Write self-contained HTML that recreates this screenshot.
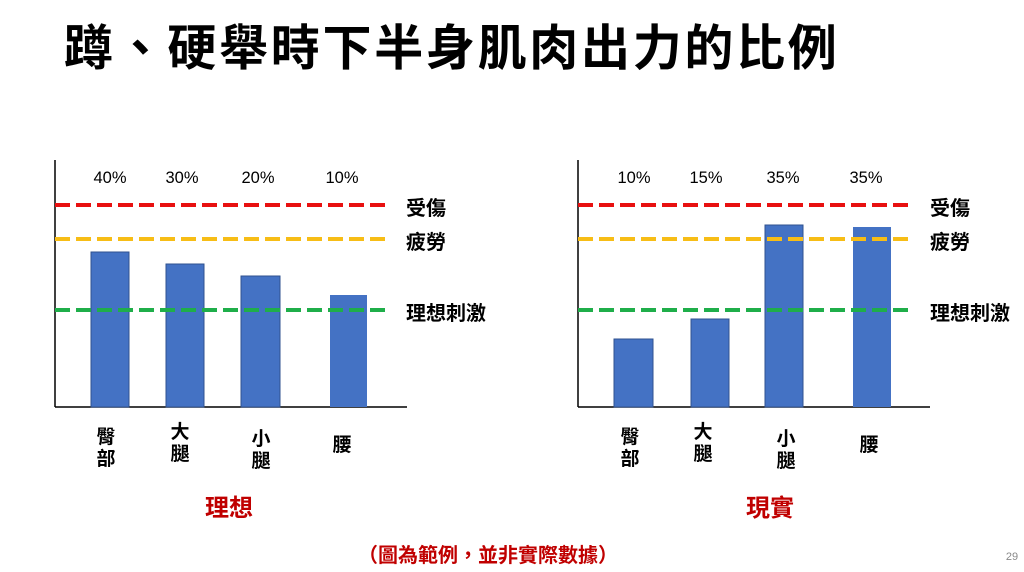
<!DOCTYPE html>
<html><head><meta charset="utf-8"><style>
body{margin:0;width:1024px;height:572px;background:#fff;overflow:hidden;position:relative;font-family:"Liberation Sans","Noto Sans CJK TC",sans-serif}
.t{position:absolute;white-space:nowrap}
</style></head><body>
<div class="t" style="left:64px;top:19px;font-size:49px;font-weight:bold;letter-spacing:2.7px;color:#000;line-height:60px">蹲、硬舉時下半身肌肉出力的比例</div>
<svg width="1024" height="572" style="position:absolute;left:0;top:0" font-family="Liberation Sans, Noto Sans CJK TC, sans-serif">
<line x1="55" y1="160" x2="55" y2="407" stroke="#000" stroke-width="1.5"/>
<line x1="55" y1="407" x2="407" y2="407" stroke="#000" stroke-width="1.5"/>
<rect x="91" y="252" width="38" height="155" fill="#4472c4" stroke="#2f528f"/>
<rect x="166" y="264" width="38" height="143" fill="#4472c4" stroke="#2f528f"/>
<rect x="241" y="276" width="39" height="131" fill="#4472c4" stroke="#2f528f"/>
<rect x="330" y="295" width="37" height="112" fill="#4472c4"/>
<g stroke-width="4" stroke-dasharray="15 6">
<line x1="55" y1="205" x2="388" y2="205" stroke="#e81010"/>
<line x1="55" y1="239" x2="388" y2="239" stroke="#f7bd16"/>
<line x1="55" y1="310" x2="388" y2="310" stroke="#1fae4a"/>
</g>
<g font-size="16.5" text-anchor="middle" fill="#000">
<text x="110" y="183">40%</text><text x="182" y="183">30%</text><text x="258" y="183">20%</text><text x="342" y="183">10%</text>
</g>
<g font-size="20" font-weight="bold" fill="#000">
<text x="406" y="215">受傷</text><text x="406" y="249">疲勞</text><text x="406" y="320">理想刺激</text>
</g>
<g font-size="19" font-weight="bold" text-anchor="middle" fill="#000">
<text x="106" y="443">臀</text><text x="106" y="465">部</text>
<text x="180" y="438">大</text><text x="180" y="460">腿</text>
<text x="261" y="445">小</text><text x="261" y="467">腿</text>
<text x="342" y="451">腰</text>
</g>
<line x1="578" y1="160" x2="578" y2="407" stroke="#000" stroke-width="1.5"/>
<line x1="578" y1="407" x2="930" y2="407" stroke="#000" stroke-width="1.5"/>
<rect x="614" y="339" width="39" height="68" fill="#4472c4" stroke="#2f528f"/>
<rect x="691" y="319" width="38" height="88" fill="#4472c4" stroke="#2f528f"/>
<rect x="765" y="225" width="38" height="182" fill="#4472c4" stroke="#2f528f"/>
<rect x="853" y="227" width="38" height="180" fill="#4472c4"/>
<g stroke-width="4" stroke-dasharray="15 6">
<line x1="578" y1="205" x2="911" y2="205" stroke="#e81010"/>
<line x1="578" y1="239" x2="911" y2="239" stroke="#f7bd16"/>
<line x1="578" y1="310" x2="911" y2="310" stroke="#1fae4a"/>
</g>
<g font-size="16.5" text-anchor="middle" fill="#000">
<text x="634" y="183">10%</text><text x="706" y="183">15%</text><text x="783" y="183">35%</text><text x="866" y="183">35%</text>
</g>
<g font-size="20" font-weight="bold" fill="#000">
<text x="930" y="215">受傷</text><text x="930" y="249">疲勞</text><text x="930" y="320">理想刺激</text>
</g>
<g font-size="19" font-weight="bold" text-anchor="middle" fill="#000">
<text x="630" y="443">臀</text><text x="630" y="465">部</text>
<text x="703" y="438">大</text><text x="703" y="460">腿</text>
<text x="786" y="445">小</text><text x="786" y="467">腿</text>
<text x="869" y="451">腰</text>
</g>
<g font-size="24" font-weight="bold" text-anchor="middle" fill="#c00000">
<text x="229" y="516">理想</text><text x="770" y="516">現實</text>
</g>
<text x="488" y="562" font-size="20" font-weight="bold" text-anchor="middle" fill="#c00000">（圖為範例，並非實際數據）</text>
<text x="1012" y="560" font-size="11" text-anchor="middle" fill="#888">29</text>
</svg>
</body></html>
